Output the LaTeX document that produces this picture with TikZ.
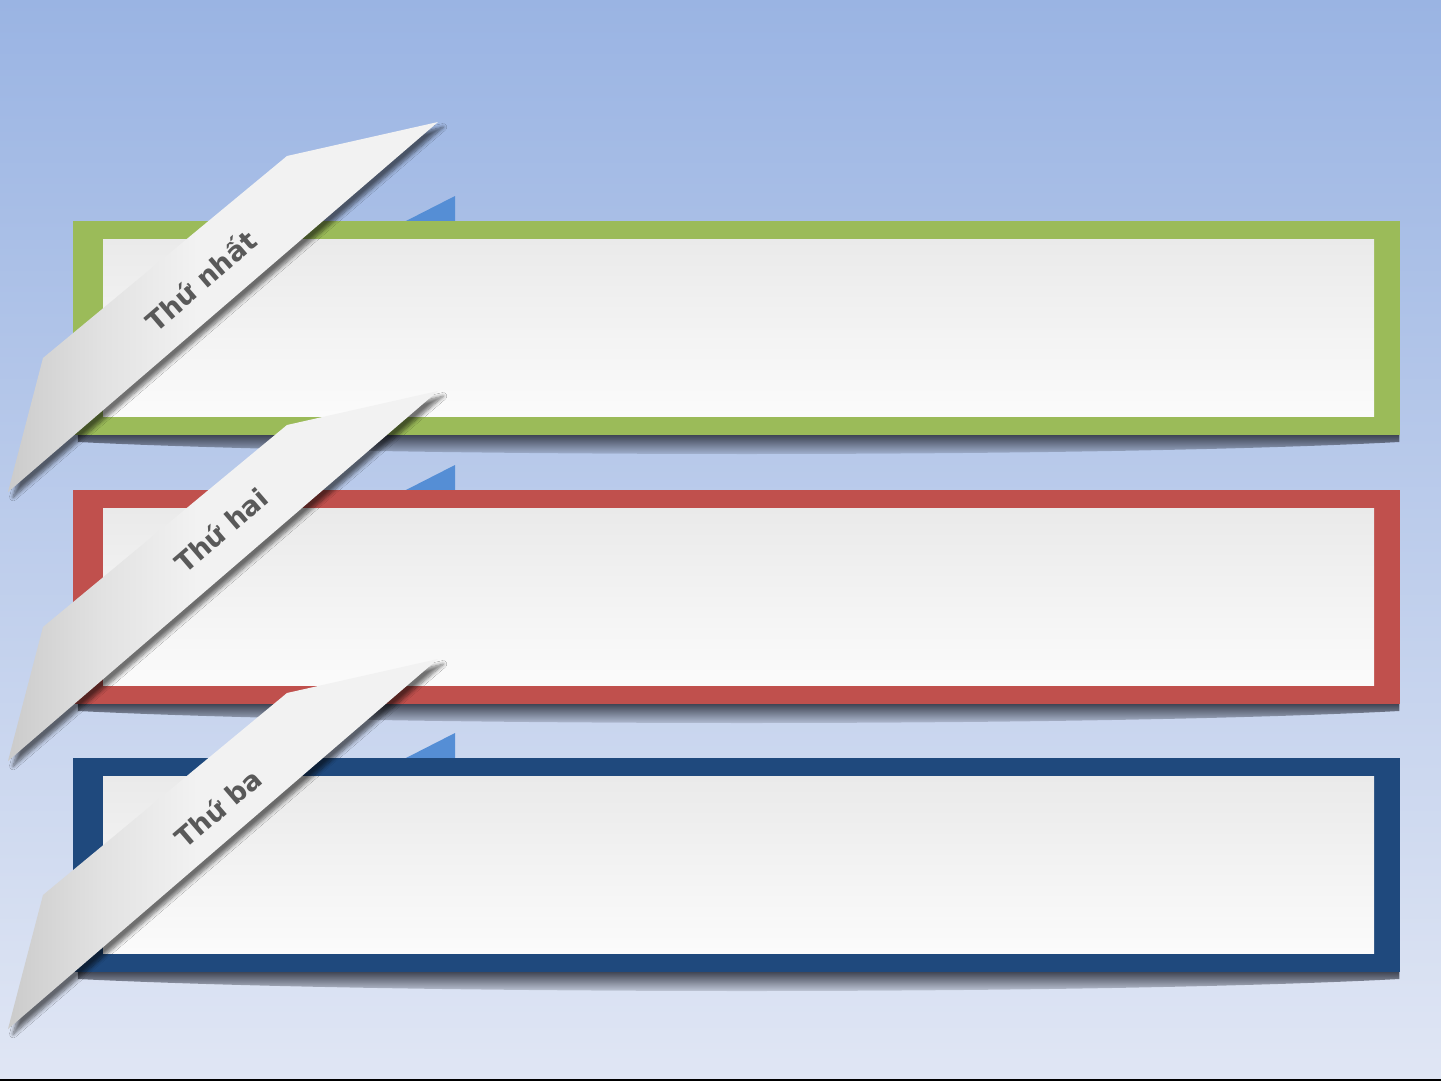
\documentclass[tikz,border=0pt]{standalone}
\usepackage{fontspec}
\setmainfont{DejaVu Sans}
\usetikzlibrary{fadings,shadows.blur}
\definecolor{bgtop}{HTML}{9AB4E3}
\definecolor{bgbot}{HTML}{E0E6F4}
\definecolor{cgreen}{HTML}{9BBB59}
\definecolor{cred}{HTML}{C0504D}
\definecolor{cblue}{HTML}{1F497D}
\definecolor{ctri}{HTML}{558ED5}
\definecolor{rdark}{HTML}{CBCBCB}
\definecolor{rmid}{HTML}{E2E2E2}
\definecolor{rlight}{HTML}{F2F2F2}
\definecolor{intop}{HTML}{EAEAEA}
\definecolor{inbot}{HTML}{FBFBFB}
\definecolor{txt}{HTML}{595959}
\definecolor{shad}{HTML}{353A48}
\pgfdeclarehorizontalshading{ribbonshade}{100bp}{color(0bp)=(rdark); color(25bp)=(rdark); color(36bp)=(rmid); color(47bp)=(rlight); color(100bp)=(rlight)}
\tikzfading[name=shadowfade, top color=transparent!0, bottom color=transparent!100]
\tikzset{
  frame/.style={fill=#1},
  innerpanel/.style={shading angle=15, top color=intop, bottom color=inbot},
  boxshadow/.style={fill=shad, path fading=shadowfade},
  tri/.style={fill=ctri},
  ribbon/.style={shading=ribbonshade, blur shadow={shadow xshift=2.6pt, shadow yshift=-2.6pt, shadow blur radius=1.8pt, shadow blur steps=8, shadow opacity=55}},
  label/.style={rotate=40.7, text=txt, font=\bfseries\fontsize{13.5}{13.5}\selectfont, inner sep=0pt}
}
\begin{document}
\begin{tikzpicture}[x=0.5pt, y=-0.5pt]
\useasboundingbox (0,0) rectangle (1441,1081);
% background
\shade[top color=bgtop, bottom color=bgbot] (0,0) rectangle (1441,1081);
\fill[black] (0,1078.5) rectangle (1441,1081);
% boxes
\foreach \dy/\col in {0/cgreen, 269/cred, 537/cblue}{
  \begin{scope}[shift={(0,\dy)}]
    \fill[tri] (405,221.5) -- (455,196) -- (455,221.5) -- cycle;
    \path[boxshadow] (78,433) -- (1400,433) -- (1400,442) .. controls (1100,458) and (400,458) .. (78,442) -- cycle;
    \fill[frame=\col] (73,221) rectangle (1400,435);
    \shade[innerpanel] (103,239) rectangle (1374,416);
  \end{scope}
}
% ribbons
\foreach \dy in {0, 269, 537}{
  \begin{scope}[shift={(0,\dy)}]
    \shade[ribbon] (438,122) -- (287,156) -- (43,358) -- (8,492) -- cycle;
  \end{scope}
}
\node[label] (t1) at (200,280) {Thứ nhất};
\node[label] (t2) at (221,530) {Thứ hai};
\node[label] (t3) at (218,808) {Thứ ba};
\end{tikzpicture}
\end{document}
